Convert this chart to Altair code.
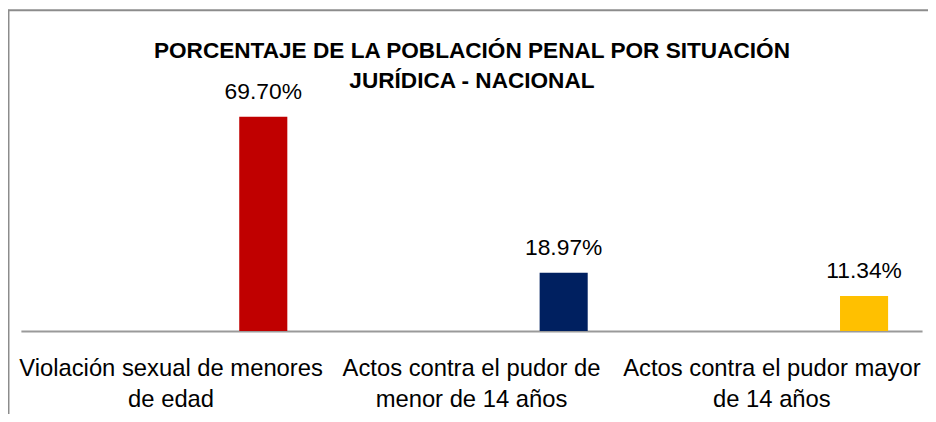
import altair as alt
import pandas as pd

# ---- data ----
categories = [
    "Violación sexual de menores\nde edad",
    "Actos contra el pudor de\nmenor de 14 años",
    "Actos contra el pudor mayor\nde 14 años",
]
values = [69.70, 18.97, 11.34]
title_lines = ["PORCENTAJE DE LA POBLACIÓN PENAL POR SITUACIÓN", "JURÍDICA - NACIONAL"]

# ---- styling ----
bar_colors = ["#C00000", "#002060", "#FFC000"]
FONT = "Liberation Sans"
W, H = 909, 248

df = pd.DataFrame({"cat": categories, "val": values})

x_enc = alt.X(
    "cat:N",
    sort=categories,
    scale=alt.Scale(paddingInner=0, paddingOuter=0),
    axis=alt.Axis(
        title=None,
        ticks=False,
        tickSize=0,
        domainColor="#9A9A9A",
        domainWidth=2,
        labelAngle=0,
        labelFont=FONT,
        labelFontSize=24,
        labelColor="#000000",
        labelLineHeight=31,
        labelPadding=26,
        labelLimit=0,
        labelOverlap=False,
        labelBound=False,
        labelFlush=False,
        labelExpr="split(datum.label, '\\n')",
    ),
)
y_enc = alt.Y("val:Q", scale=alt.Scale(domain=[0, 80], nice=False, zero=True), axis=None)

base = alt.Chart(df)

bars = base.mark_bar(size=48.5, xOffset=93).encode(
    x=x_enc,
    y=y_enc,
    color=alt.Color("cat:N", scale=alt.Scale(domain=categories, range=bar_colors), legend=None),
)

labels = base.transform_calculate(
    lbl="format(datum.val, '.2f') + '%'"
).mark_text(
    dx=93, dy=-18, baseline="alphabetic", align="center",
    font=FONT, fontSize=23, color="#000000",
).encode(x=x_enc, y=y_enc, text="lbl:N")

title = alt.Chart(pd.DataFrame({"t": [0]})).mark_text(
    text=title_lines, font=FONT, fontSize=22.8, fontWeight="bold",
    baseline="alphabetic", align="center", lineHeight=30, color="#000000",
).encode(x=alt.value(455), y=alt.value(-27))

frame_left = alt.Chart(pd.DataFrame({"t": [0]})).mark_rule(
    color="#8C8C8C", strokeWidth=2
).encode(x=alt.value(-12.5), y=alt.value(-76), y2=alt.value(334))

frame_top = alt.Chart(pd.DataFrame({"t": [0]})).mark_rule(
    color="#8C8C8C", strokeWidth=2
).encode(x=alt.value(-13), x2=alt.value(920), y=alt.value(-75.5))

chart = alt.layer(bars, labels, title, frame_left, frame_top).properties(
    width=W,
    height=H,
    autosize=alt.AutoSizeParams(type="none"),
    padding={"left": 13, "top": 76, "right": 6, "bottom": 82},
).configure(background="#FFFFFF").configure_view(stroke=None)

chart.save("out.html", embed_options={"renderer": "svg", "actions": False})
